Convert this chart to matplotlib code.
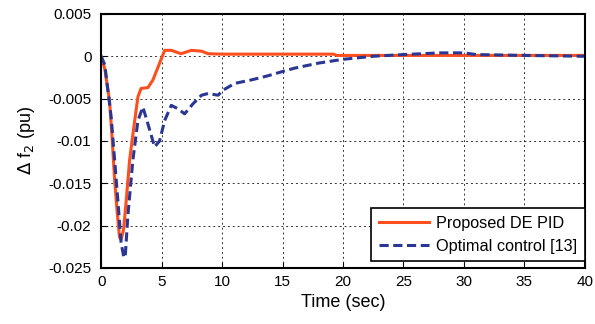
import numpy as np
import matplotlib.pyplot as plt

plt.rcParams['font.family'] = ['Liberation Sans', 'DejaVu Sans']

# Proposed DE PID response
t_de = [0, 0.3, 0.69, 0.9, 1.1, 1.3, 1.52, 1.66, 1.85, 2.07, 2.35, 2.7, 3.04, 3.3,
        3.87, 4.28, 4.7, 5.0, 5.25, 5.8, 6.6, 7.46, 8.3, 8.84, 10, 15, 19.2, 19.5,
        25, 30, 35, 40]
df_de = [0, -0.0015, -0.0052, -0.0095, -0.0143, -0.018, -0.0214, -0.0216, -0.0205,
         -0.0171, -0.0123, -0.0084, -0.0048, -0.0038, -0.0037, -0.0028, -0.0013,
         -0.0002, 0.0007, 0.0007, 0.0003, 0.0007, 0.0006, 0.0003, 0.00025, 0.00025,
         0.00025, 0.0001, 0.0001, 0.0001, 0.0001, 0.0001]

# Optimal control [13] response
t_oc = [0, 0.3, 0.83, 1.1, 1.38, 1.65, 1.88, 2.0, 2.2, 2.62, 3.04, 3.45, 3.87, 4.42,
        4.83, 5.25, 5.8, 6.35, 6.9, 7.6, 8.3, 8.84, 9.67, 10.08, 11.05, 12.4, 13.8,
        15, 16, 18, 20, 22.5, 25, 28, 30, 31, 35, 40]
df_oc = [0, -0.001, -0.0072, -0.012, -0.017, -0.022, -0.0238, -0.0235, -0.019,
         -0.0123, -0.0076, -0.006, -0.008, -0.0107, -0.01, -0.0076, -0.0058, -0.0062,
         -0.0068, -0.0056, -0.0046, -0.0044, -0.0046, -0.004, -0.0032, -0.0028,
         -0.0023, -0.0018, -0.0014, -0.0008, -0.00036, 0.0, 0.0002, 0.0004, 0.0004,
         0.0002, 0.0001, 0.0]

fig = plt.figure(figsize=(5.95, 3.24), dpi=100)
ax = fig.add_axes([0.170, 0.173, 0.813, 0.784])

ax.plot(t_de, df_de, color='#ff4f1f', lw=2.2, label='Proposed DE PID')
ax.plot(t_oc, df_oc, color='#2a3694', lw=2.2, ls=(0, (3, 1.5)), label='Optimal control [13]')

ax.set_xlim(0, 40)
ax.set_ylim(-0.025, 0.005)
ax.set_xticks(np.arange(0, 41, 5))
ax.set_yticks([0.005, 0, -0.005, -0.01, -0.015, -0.02, -0.025])
ax.set_yticklabels(['0.005', '0', '-0.005', '-0.01', '-0.015', '-0.02', '-0.025'])
ax.grid(True, color='black', ls=(0, (2, 3)), lw=0.7, alpha=0.8)
ax.tick_params(labelsize=11, direction='in', length=4)
ax.tick_params(axis='y', pad=7)
ax.tick_params(axis='x', pad=5)
for s in ax.spines.values():
    s.set_linewidth(1.5)

ax.set_xlabel('Time (sec)', fontsize=13, labelpad=4)
ax.set_ylabel(r'$\Delta$ f$_2$ (pu)', fontsize=13, labelpad=8)

leg = ax.legend(loc='lower right', bbox_to_anchor=(1.0, 0.027), fontsize=11.7,
                fancybox=False, framealpha=1, edgecolor='black', borderaxespad=0,
                handlelength=3.1, handletextpad=0.45, labelspacing=0.5,
                borderpad=0.45)
leg.get_frame().set_linewidth(1.2)

fig.savefig('out.png', dpi=100)
